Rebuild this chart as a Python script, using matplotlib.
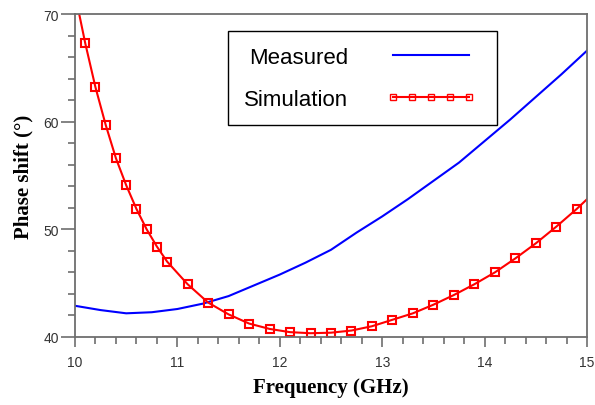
import numpy as np
import matplotlib.pyplot as plt
from matplotlib.ticker import MultipleLocator

# measured phase shift
meas_freq = [10.0, 10.25, 10.5, 10.75, 11.0, 11.25, 11.5, 11.75, 12.0, 12.25, 12.5,
             12.75, 13.0, 13.25, 13.5, 13.75, 14.0, 14.25, 14.5, 14.75, 15.0]
meas_phase = [42.9, 42.5, 42.2, 42.3, 42.6, 43.1, 43.8, 44.8, 45.8, 46.9, 48.1,
              49.7, 51.2, 52.8, 54.5, 56.2, 58.2, 60.2, 62.3, 64.4, 66.6]

# simulated phase shift, end points have no marker
sim_freq = [10.0, 10.1, 10.2, 10.3, 10.4, 10.5, 10.6, 10.7, 10.8, 10.9,
            11.1, 11.3, 11.5, 11.7, 11.9, 12.1, 12.3, 12.5, 12.7, 12.9,
            13.1, 13.3, 13.5, 13.7, 13.9, 14.1, 14.3, 14.5, 14.7, 14.9, 15.0]
sim_phase = [71.9, 67.3, 63.2, 59.7, 56.6, 54.1, 51.9, 50.0, 48.4, 47.0,
             44.9, 43.2, 42.1, 41.25, 40.75, 40.45, 40.35, 40.4, 40.6, 41.0,
             41.6, 42.2, 43.0, 43.9, 44.9, 46.0, 47.3, 48.7, 50.25, 51.9, 52.8]

fig = plt.figure(figsize=(5.95, 4.06), dpi=100)
ax = fig.add_axes([0.126, 0.1675, 0.8606, 0.7955])

ax.plot(meas_freq, meas_phase, color='#0000ff', lw=1.5, label='Measured')
ax.plot(sim_freq, sim_phase, color='#ff0000', lw=1.5, marker='s', ms=6,
        mfc='none', mec='#ff0000', mew=1.5, markevery=slice(1, -1),
        label='Simulation')

ax.set_xlim(10, 15)
ax.set_ylim(40, 70)
ax.xaxis.set_major_locator(MultipleLocator(1))
ax.xaxis.set_minor_locator(MultipleLocator(0.2))
ax.yaxis.set_major_locator(MultipleLocator(10))
ax.yaxis.set_minor_locator(MultipleLocator(2))

gray = '#6e6e6e'
for s in ax.spines.values():
    s.set_color(gray)
    s.set_linewidth(1.3)
ax.tick_params(axis='both', which='both', direction='out', color=gray, width=1.2,
               labelsize=10, labelcolor='#333333')
ax.tick_params(axis='x', which='major', length=7, pad=6)
ax.tick_params(axis='y', which='major', length=10, pad=1.5)
ax.tick_params(axis='both', which='minor', length=5)
for lbl in ax.get_xticklabels() + ax.get_yticklabels():
    lbl.set_family('Liberation Sans')

lab_font = dict(family='Liberation Serif', weight='bold', size=15)
ax.set_xlabel('Frequency (GHz)', labelpad=6, **lab_font)
ax.set_ylabel('Phase shift (\u00b0)', labelpad=7, **lab_font)

leg = ax.legend(loc='upper left', bbox_to_anchor=(0.299, 0.669, 0.525, 0.278),
                mode='expand', markerfirst=False, numpoints=5, handlelength=4.0,
                handletextpad=1.75, labelspacing=0.95, borderpad=0.7,
                borderaxespad=0, fancybox=False, framealpha=1, edgecolor='black',
                prop={'family': 'Liberation Sans', 'size': 16})
leg.get_frame().set_linewidth(1.0)
for h in leg.legend_handles:
    h.set_markersize(4.5)
    h.set_markeredgewidth(1.0)

fig.savefig('out.png', dpi=100)
